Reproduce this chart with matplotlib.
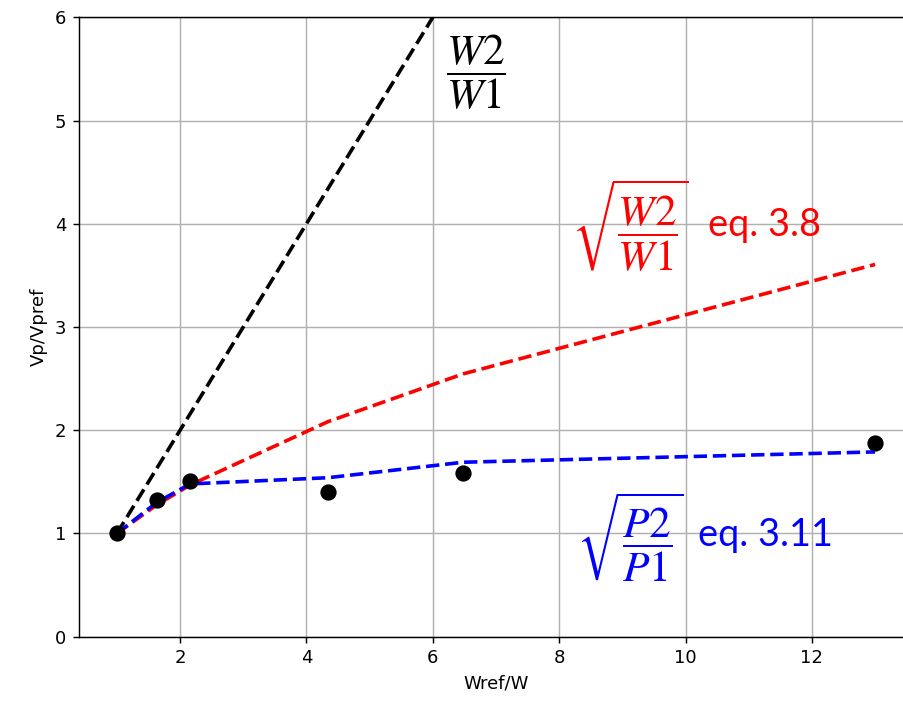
import matplotlib
matplotlib.use("Agg")
import matplotlib.pyplot as plt
import numpy as np

# data
x_data = [1.0, 1.63, 2.16, 4.34, 6.48, 13.0]
y_data = [1.0, 1.325, 1.51, 1.40, 1.59, 1.875]
x_lin = [1.0, 6.0]
y_lin = [1.0, 6.0]
x_red = [1.0, 1.63, 2.16, 4.34, 6.48, 13.0]
y_red = [1.0, 1.277, 1.47, 2.083, 2.546, 3.606]
x_blue = [1.0, 1.63, 2.16, 4.34, 6.48, 13.0]
y_blue = [1.0, 1.30, 1.48, 1.54, 1.69, 1.79]

plt.rcParams['mathtext.fontset'] = 'stix'
DPI = 130
fig = plt.figure(figsize=(903 / DPI, 708 / DPI), dpi=DPI)
ax = fig.add_axes([79 / 903, 71.3 / 708, (913 - 79) / 903, (636.7 - 17.3) / 708])

ax.plot(x_lin, y_lin, '--', color='black', lw=2)
ax.plot(x_red, y_red, '--', color='red', lw=2)
ax.plot(x_blue, y_blue, '--', color='blue', lw=2)
ax.plot(x_data, y_data, 'o', color='black', ms=8, zorder=5)

ax.set_xlim(0.4, 13.6)
ax.set_ylim(0, 6)
ax.set_xticks([2, 4, 6, 8, 10, 12])
ax.set_yticks([0, 1, 2, 3, 4, 5, 6])
ax.grid(True)
ax.set_xlabel('Wref/W')
ax.set_ylabel('Vp/Vpref')

ax.text(6.68, 5.47, r'$\dfrac{W2}{W1}$', color='black', fontsize=24, ha='center', va='center')
ax.text(9.12, 3.99, r'$\sqrt{\dfrac{W2}{W1}}$', color='red', fontsize=24, ha='center', va='center')
ax.text(10.35, 3.99, 'eq. 3.8', color='red', fontsize=21, ha='left', va='center', family='Lato')
ax.text(9.12, 0.97, r'$\sqrt{\dfrac{P2}{P1}}$', color='blue', fontsize=24, ha='center', va='center')
ax.text(10.2, 0.985, 'eq. 3.11', color='blue', fontsize=21, ha='left', va='center', family='Lato')

fig.savefig('out.png', dpi=DPI)
